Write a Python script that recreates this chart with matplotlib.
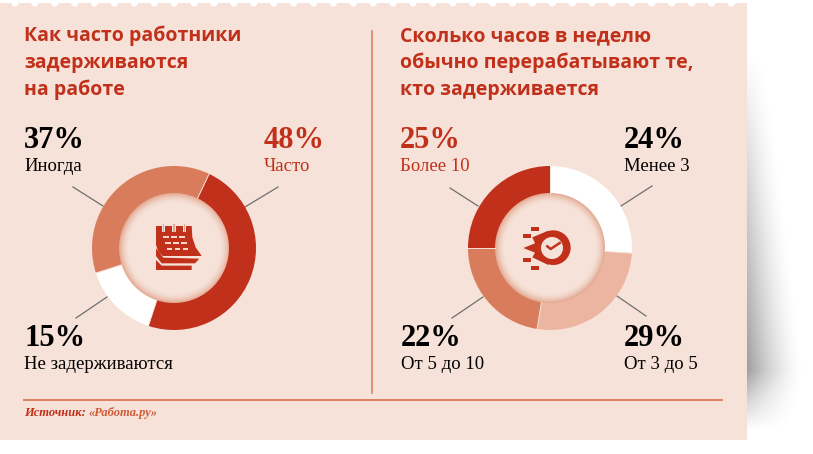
import numpy as np
import matplotlib
matplotlib.use('Agg')
import matplotlib.pyplot as plt
from matplotlib.patches import Circle, Polygon, Rectangle

# left chart
left_title = ['Как часто работники', 'задерживаются', 'на работе']
left_labels = ['Часто', 'Не задерживаются', 'Иногда']
left_pct = [48, 15, 37]

# right chart
right_title = ['Сколько часов в неделю', 'обычно перерабатывают те,', 'кто задерживается']
right_labels = ['Менее 3', 'От 3 до 5', 'От 5 до 10', 'Более 10']
right_pct = [24, 29, 22, 25]
# the arcs in the picture do not follow the printed numbers exactly, these are read off the ring
right_arcs = [26, 26.5, 22.5, 25]

W, H = 813, 454
PANEL = '#f6e2d8'
RED = '#c1301a'
SALMON = '#d97c5c'
PALE = '#ecb5a0'
LINE = '#de7f60'
SERIF = 'Liberation Serif'

fig = plt.figure(figsize=(W / 100, H / 100), dpi=100)
ax = fig.add_axes([0, 0, 1, 1])
ax.axis('off')

# soft shadow right of the panel
xx, yy = np.meshgrid(np.arange(747, 813), np.arange(0, 454))
strength = np.interp(yy, [50, 150, 370, 395, 430], [0, 0.13, 0.38, 0.2, 0])
reach = np.interp(yy, [50, 370, 430], [20, 58, 50])
fade = np.clip(1 - (xx - 747) / reach, 0, 1) ** 1.6
shadow = np.zeros(xx.shape + (4,))
shadow[..., 3] = strength * fade
ax.imshow(shadow, extent=(747, 813, 454, 0), zorder=1, aspect='auto')

# panel with punched top edge
ax.add_patch(Rectangle((0, 3), 747, 437, color=PANEL, lw=0, zorder=2))
for px in np.arange(15, 740, 19.9):
    ax.add_patch(Circle((px, 3), 3.6, color='white', lw=0, zorder=3))

ax.plot([372, 372], [31, 393], color=LINE, lw=1.2, zorder=3)
ax.plot([24, 722], [400, 400], color=LINE, lw=1.4, zorder=3)


def ring(cx, cy, values, colors, start):
    R = 82
    hole = 55
    pad = 2
    pie_ax = fig.add_axes([(cx - R - pad) / W, 1 - (cy + R + pad) / H,
                           2 * (R + pad) / W, 2 * (R + pad) / H])
    pie_ax.pie(values, colors=colors, startangle=start, counterclock=False, radius=1,
               wedgeprops=dict(width=(R - hole) / R, linewidth=0))
    # thin pale cuts between the slices
    angles = start - np.cumsum(values) / sum(values) * 360
    for a in np.radians(angles):
        pie_ax.plot([hole / R * np.cos(a), np.cos(a)], [hole / R * np.sin(a), np.sin(a)],
                    color=PANEL, lw=0.7)
    lim = (R + pad) / R
    pie_ax.set_xlim(-lim, lim)
    pie_ax.set_ylim(-lim, lim)
    pie_ax.patch.set_visible(False)

    # inner glow along the hole edge
    gx, gy = np.meshgrid(np.linspace(-57, 57, 229), np.linspace(-57, 57, 229))
    r = np.hypot(gx, gy)
    glow = np.zeros(r.shape + (4,))
    glow[..., :3] = matplotlib.colors.to_rgb('#cf6f4c')
    glow[..., 3] = np.where(r < 56.5, np.clip((r - 45) / 10, 0, 1) ** 1.8 * 0.5, 0)
    ax.imshow(glow, extent=(cx - 57, cx + 57, cy + 57, cy - 57), zorder=3, aspect='auto')


def big_label(x, y, pct, label, color='black'):
    ax.text(x, y, f'{pct}%', family=SERIF, weight='bold', fontsize=22, color=color,
            va='baseline', zorder=5)
    ax.text(x, y + 23, label, family=SERIF, fontsize=13.5, color=color,
            va='baseline', zorder=5)


def leader(x0, y0, x1, y1):
    ax.plot([x0, x1], [y0, y1], color='#6f6f6f', lw=0.9, zorder=3)


for i, line in enumerate(left_title):
    ax.text(24, 41 + 27 * i, line, family='Open Sans', weight='bold', fontsize=14,
            color=RED, va='baseline', zorder=5)
for i, line in enumerate(right_title):
    ax.text(400, 41 + 27 * i, line, family='Open Sans', weight='bold', fontsize=14,
            color=RED, va='baseline', zorder=5)

ring(174, 248, left_pct, [RED, 'white', SALMON], 90 - 25.4)
ring(550, 248, right_arcs, ['white', PALE, SALMON, RED], 90)

big_label(264, 148, left_pct[0], left_labels[0], RED)
big_label(24, 346, left_pct[1], left_labels[1])
big_label(24, 148, left_pct[2], left_labels[2])
big_label(624, 148, right_pct[0], right_labels[0])
big_label(624, 346, right_pct[1], right_labels[1])
big_label(401, 346, right_pct[2], right_labels[2])
big_label(400, 148, right_pct[3], right_labels[3], RED)

leader(245, 207, 278, 187)
leader(103, 206, 73, 187)
leader(107, 297, 76, 318)
leader(621, 206, 652, 186)
leader(617, 296, 646, 316)
leader(483, 297, 452, 318)
leader(478, 206, 450, 188)

ax.text(24, 416, 'Источник:', family=SERIF, style='italic', weight='bold', fontsize=9,
        color=RED, va='baseline', zorder=5)
ax.text(89, 416, '«Работа.ру»', family=SERIF, style='italic', weight='bold', fontsize=9,
        color='#cf5a38', va='baseline', zorder=5)


# calendar icon, zoomed pixel coords around (80, 150)
def cal(a, b):
    return (80 + a / 3, 150 + b / 3)


for shape in ([(228, 228), (335, 228), (337, 262), (347, 292), (365, 318), (248, 318), (235, 305), (228, 285)],
              [(228, 295), (250, 323), (358, 326), (345, 340), (245, 340), (228, 318)],
              [(228, 330), (245, 347), (335, 347), (335, 360), (228, 360)]):
    ax.add_patch(Polygon([cal(a, b) for a, b in shape], color=RED, lw=0, zorder=4))
for zx in (250, 282, 314):
    ax.add_patch(Rectangle(cal(zx - 5, 221), 10 / 3, 26 / 3, color=PANEL, lw=0, zorder=5))
    ax.add_patch(Rectangle(cal(zx - 2, 221), 4 / 3, 24 / 3, color='#e9a48c', lw=0, zorder=5))
for zx, zy in [(250, 259), (274, 259), (298, 259), (256, 276), (280, 276), (304, 276), (260, 293), (284, 293), (308, 293)]:
    ax.add_patch(Rectangle(cal(zx, zy), 16 / 3, 6 / 3, color='#f6d9cc', lw=0, zorder=5))


# clock icon, zoomed pixel coords around (455, 150)
def clk(a, b):
    return (455 + a / 3, 150 + b / 3)


ax.add_patch(Polygon([clk(a, b) for a, b in [(280, 242), (232, 262), (240, 280), (205, 294), (240, 308), (232, 322), (280, 345)]],
                     color=RED, lw=0, zorder=4))
ax.add_patch(Circle(clk(295, 293), 52 / 3, color=RED, lw=0, zorder=4))
ax.add_patch(Circle(clk(291, 294), 33 / 3, color=PANEL, lw=0, zorder=5))
ax.plot(*zip(clk(277, 289), clk(287, 297), clk(314, 279)), color=RED, lw=1.8, zorder=6)
for zx, zy in [(228, 230), (205, 253), (205, 324), (228, 347)]:
    ax.add_patch(Rectangle(clk(zx, zy), 24 / 3, 12 / 3, color=RED, lw=0, zorder=4))

ax.set_xlim(0, W)
ax.set_ylim(H, 0)

fig.savefig('out.png', dpi=100)
